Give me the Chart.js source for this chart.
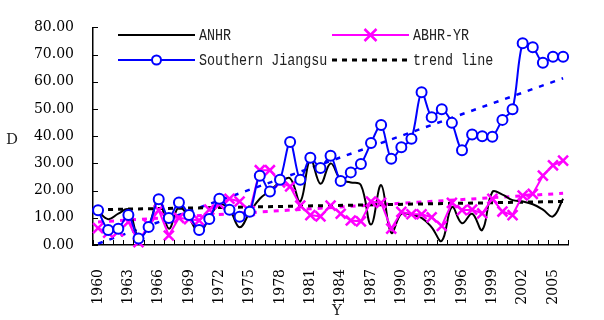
<!DOCTYPE html>
<html>
<head>
<meta charset="utf-8">
<script src="https://cdn.jsdelivr.net/npm/chart.js@4.4.1/dist/chart.umd.min.js"></script>
<style>
  html, body { margin: 0; padding: 0; background: #ffffff; }
  canvas { display: block; }
</style>
</head>
<body>
<canvas id="chart" width="604" height="320"></canvas>
<script>
// Categories: one per year
const years = [
  '1960','1961','1962','1963','1964','1965','1966','1967','1968','1969',
  '1970','1971','1972','1973','1974','1975','1976','1977','1978','1979',
  '1980','1981','1982','1983','1984','1985','1986','1987','1988','1989',
  '1990','1991','1992','1993','1994','1995','1996','1997','1998','1999',
  '2000','2001','2002','2003','2004','2005','2006'
];

// Labelled years on the horizontal axis
const xTickLabels = ['1960','1963','1966','1969','1972','1975','1978','1981',
  '1984','1987','1990','1993','1996','1999','2002','2005'];

// Vertical axis tick values
const yTickValues = [0, 10, 20, 30, 40, 50, 60, 70, 80];

const anhr = [
  12.5, 9.5, 11.5, 13, 3, 7, 17, 6, 14, 10,
  4.5, 10, 15, 13, 6.5, 12, 17, 20, 23, 24.5,
  16, 31.5, 22.5, 30, 24, 23, 22, 7.5, 22, 4.5,
  11.5, 11, 10, 6.5, 1.5, 14, 8, 11.5, 5.5, 19.5,
  18.5, 16.5, 16, 15, 13, 10.5, 17
];

const abhrYr = [
  6.2, 4.5, 5, 8.5, 1, 7.5, 12.8, 3.5, 10, 9.5,
  9, 13, 15, 17, 16, 12.5, 27.5, 27.5, 23, 21.5,
  14.5, 11, 10.5, 14.5, 11.5, 9, 8.7, 16, 15.5, 6,
  12.2, 11.3, 11.3, 10.2, 7, 15.5, 12.8, 13, 11.6, 17,
  12.3, 11, 18.2, 18.8, 25.5, 29.3, 31
];

const southernJiangsu = [
  12.8, 5.5, 6.0, 11.0, 2.4, 6.6, 16.8, 9.9, 15.6, 11.0,
  5.5, 9.6, 17.0, 13.0, 10.4, 12.2, 25.5, 19.7, 24.0, 37.9,
  24.0, 32.1, 28.3, 32.8, 23.5, 26.7, 29.8, 37.5, 44.1, 31.7,
  35.9, 39.1, 56.2, 47.0, 49.9, 44.9, 34.8, 40.6, 40.0, 39.8,
  46.0, 49.9, 74.2, 72.7, 67.0, 69.2, 69.2
];

// Linear trend lines: value at the first and at the last year
const anhrTrend = [13.0, 16.0];
const abhrYrTrend = [8.5, 19.0];
const southernJiangsuTrend = [0.5, 61.3];

// A straight line between the two end values, gaps spanned by the library
function trendSeries(ends) {
  return years.map((_, i) => i === 0 ? ends[0] : (i === years.length - 1 ? ends[1] : null));
}

const TICK_FONT = { family: '"DejaVu Serif", "Liberation Serif", serif', size: 14 };

// Short tick marks pointing into the plot area
const innerTicks = {
  id: 'innerTicks',
  afterDraw(chart) {
    const { ctx, chartArea, scales } = chart;
    const x = scales.x, y = scales.y;
    ctx.save();
    ctx.strokeStyle = '#000';
    ctx.lineWidth = 1;
    yTickValues.forEach(v => {
      const py = Math.round(y.getPixelForValue(v)) + 0.5;
      ctx.beginPath();
      ctx.moveTo(chartArea.left, py);
      ctx.lineTo(chartArea.left + 5, py);
      ctx.stroke();
    });
    const half = (x.getPixelForValue(1) - x.getPixelForValue(0)) / 2;
    for (let i = 0; i <= years.length; i++) {
      const px = Math.round(x.getPixelForValue(i) - half) + 0.5;
      ctx.beginPath();
      ctx.moveTo(px, chartArea.bottom);
      ctx.lineTo(px, chartArea.bottom - 5);
      ctx.stroke();
    }
    ctx.restore();
  }
};

// Axis titles and the two-column legend
const legendItems = [
  { text: 'ANHR', x: 118, y: 35, kind: 'line', color: '#000000' },
  { text: 'ABHR-YR', x: 332, y: 35, kind: 'cross', color: '#ff00ff' },
  { text: 'Southern Jiangsu', x: 118, y: 60, kind: 'circle', color: '#0000ff' },
  { text: 'trend line', x: 332, y: 60, kind: 'dash', color: '#000000' }
];

function drawLegendText(ctx, text, x, y) {
  ctx.save();
  ctx.font = '16px "Liberation Mono", monospace';
  ctx.fillStyle = '#222222';
  ctx.textBaseline = 'middle';
  ctx.textAlign = 'left';
  ctx.translate(x, y);
  ctx.scale(0.835, 1);
  ctx.fillText(text, 0, 0);
  ctx.restore();
}

const annotations = {
  id: 'annotations',
  afterDraw(chart) {
    const { ctx } = chart;
    ctx.save();
    ctx.fillStyle = '#222222';
    ctx.font = '15px "DejaVu Serif", serif';
    ctx.textAlign = 'center';
    ctx.textBaseline = 'middle';
    ctx.fillText('D', 12, 140);
    ctx.fillText('Y', 337, 311);
    ctx.restore();

    legendItems.forEach(item => {
      const x0 = item.x, x1 = item.x + 77, y = item.y;
      ctx.save();
      ctx.strokeStyle = item.color;
      if (item.kind === 'dash') {
        ctx.lineWidth = 3;
        ctx.setLineDash([5, 5]);
      } else {
        ctx.lineWidth = 2;
      }
      ctx.beginPath();
      ctx.moveTo(x0, y);
      ctx.lineTo(x1, y);
      ctx.stroke();
      ctx.setLineDash([]);
      const cx = (x0 + x1) / 2;
      if (item.kind === 'circle') {
        ctx.fillStyle = '#ffffff';
        ctx.lineWidth = 2;
        ctx.beginPath();
        ctx.arc(cx, y, 4.5, 0, Math.PI * 2);
        ctx.fill();
        ctx.stroke();
      } else if (item.kind === 'cross') {
        ctx.lineWidth = 2.5;
        ctx.beginPath();
        ctx.moveTo(cx - 6, y - 6); ctx.lineTo(cx + 6, y + 6);
        ctx.moveTo(cx + 6, y - 6); ctx.lineTo(cx - 6, y + 6);
        ctx.stroke();
      }
      ctx.restore();
      drawLegendText(ctx, item.text, x1 + 4, y + 1);
    });
  }
};

new Chart(document.getElementById('chart'), {
  type: 'line',
  data: {
    labels: years,
    datasets: [
      {
        label: 'Southern Jiangsu',
        data: southernJiangsu,
        borderColor: '#0000ff',
        borderWidth: 2,
        tension: 0.3,
        pointStyle: 'circle',
        pointRadius: 5,
        pointBorderWidth: 2,
        pointBorderColor: '#0000ff',
        pointBackgroundColor: '#ffffff',
        clip: false,
        order: 0
      },
      {
        label: 'ABHR-YR',
        data: abhrYr,
        borderColor: '#ff00ff',
        borderWidth: 2,
        tension: 0,
        pointStyle: 'crossRot',
        pointRadius: 7,
        pointBorderWidth: 2.5,
        pointBorderColor: '#ff00ff',
        clip: false,
        order: 1
      },
      {
        label: 'ANHR',
        data: anhr,
        borderColor: '#000000',
        borderWidth: 2,
        tension: 0.4,
        pointRadius: 0,
        clip: false,
        order: 2
      },
      {
        label: 'ANHR trend',
        data: trendSeries(anhrTrend),
        spanGaps: true,
        borderColor: '#000000',
        borderWidth: 3,
        borderDash: [5, 5],
        pointRadius: 0,
        tension: 0,
        order: 3
      },
      {
        label: 'ABHR-YR trend',
        data: trendSeries(abhrYrTrend),
        spanGaps: true,
        borderColor: '#ff00ff',
        borderWidth: 3,
        borderDash: [5, 6],
        pointRadius: 0,
        tension: 0,
        order: 3
      },
      {
        label: 'Southern Jiangsu trend',
        data: trendSeries(southernJiangsuTrend),
        spanGaps: true,
        borderColor: '#0000ff',
        borderWidth: 2.5,
        borderDash: [5, 7],
        pointRadius: 0,
        tension: 0,
        order: 3
      }
    ]
  },
  options: {
    responsive: false,
    animation: false,
    devicePixelRatio: 1,
    layout: { padding: { top: 15, right: 3, bottom: 0, left: 0 } },
    plugins: {
      legend: { display: false },
      tooltip: { enabled: false }
    },
    scales: {
      x: {
        type: 'category',
        offset: true,
        grid: { display: false, drawTicks: false },
        border: { display: true, color: '#000000', width: 1.5 },
        ticks: {
          autoSkip: false,
          minRotation: 90,
          maxRotation: 90,
          padding: 24,
          color: '#000000',
          font: TICK_FONT,
          callback(value) {
            const lab = this.getLabelForValue(value);
            return xTickLabels.includes(lab) ? lab : '';
          }
        },
        afterFit(scale) { scale.height = 75; }
      },
      y: {
        type: 'linear',
        min: 0,
        max: 80,
        grid: { display: false, drawTicks: false },
        border: { display: true, color: '#000000', width: 1.5 },
        afterBuildTicks(scale) { scale.ticks = yTickValues.map(v => ({ value: v })); },
        ticks: {
          padding: 19,
          color: '#000000',
          font: TICK_FONT,
          callback(value) { return Number(value).toFixed(2); }
        },
        afterFit(scale) { scale.width = 93; }
      }
    }
  },
  plugins: [innerTicks, annotations]
});
</script>
</body>
</html>
